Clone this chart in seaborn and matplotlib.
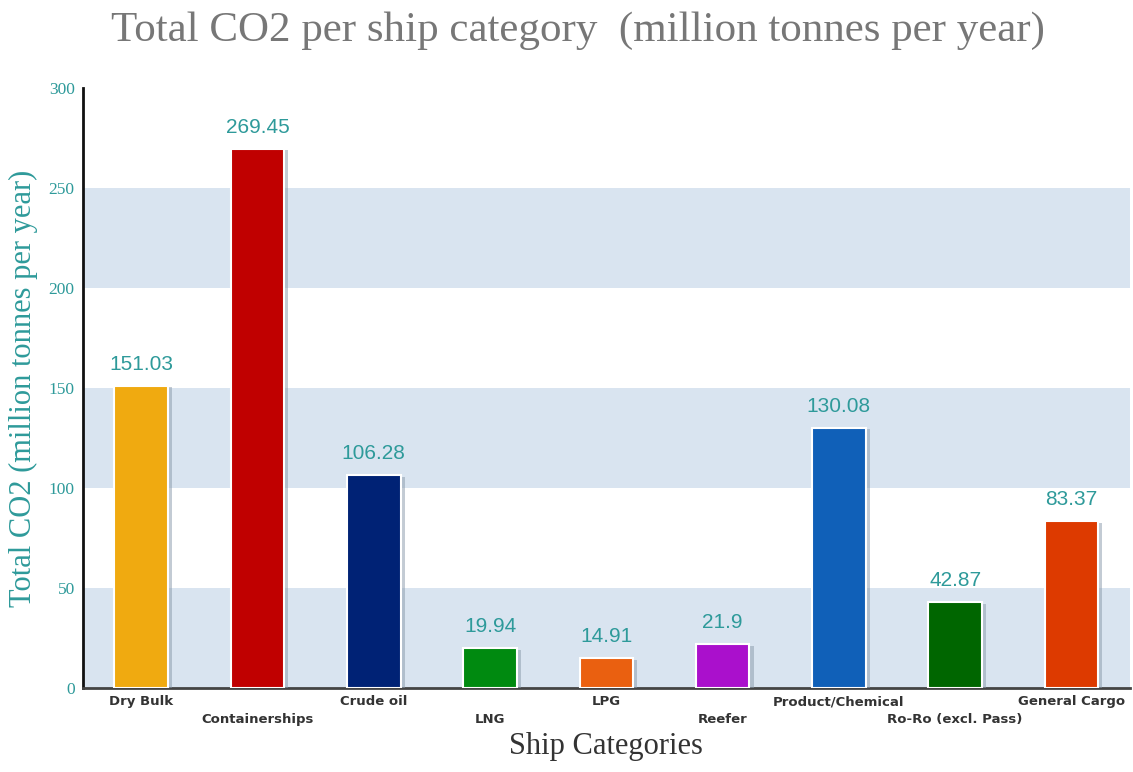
import matplotlib
matplotlib.use("Agg")
import matplotlib.pyplot as plt
import matplotlib.patheffects as pe
import seaborn as sns
import pandas as pd

categories = ["Dry Bulk", "Containerships", "Crude oil", "LNG", "LPG", "Reefer",
              "Product/Chemical", "Ro-Ro (excl. Pass)", "General Cargo"]
values = [151.03, 269.45, 106.28, 19.94, 14.91, 21.9, 130.08, 42.87, 83.37]
colors = ["#F0AA10", "#C00000", "#002275", "#008A10", "#EA6010", "#AA10CC",
          "#1060B8", "#006600", "#DD3A00"]
yticks = [0, 50, 100, 150, 200, 250, 300]

df = pd.DataFrame({"cat": categories, "val": values})

sns.set_style("white")
teal = "#2E9A9A"
fig = plt.figure(figsize=(11.33, 7.72), dpi=100)
ax = fig.add_axes([0.0733, 0.1088, 0.9237, 0.7772])
ax.grid(False)

for lo in (0, 100, 200):
    ax.axhspan(lo, lo + 50, facecolor="#D9E4F0", edgecolor="none", zorder=0, lw=0)

sns.barplot(data=df, x="cat", y="val", hue="cat", palette=colors, legend=False,
            saturation=1, width=0.46, ax=ax, zorder=3, edgecolor="white", linewidth=1.5)
for cont in ax.containers:
    for p in cont:
        p.set_path_effects([pe.SimplePatchShadow(offset=(3, -1), shadow_rgbFace="#8899AA", alpha=0.5),
                            pe.Normal()])

for i, v in enumerate(values):
    ax.text(i, v + 6, f"{v:g}", ha="center", va="bottom", color=teal,
            fontsize=15, family="Liberation Sans", zorder=5)

ax.set_xlim(-0.5, len(categories) - 0.5)
ax.set_ylim(0, 300)
ax.set_yticks(yticks)
ax.set_yticklabels([str(t) for t in yticks], color=teal, family="Liberation Serif", fontsize=12.5)
ax.tick_params(axis="y", length=0, pad=6)
ax.set_xticks(range(len(categories)))
ax.set_xticklabels([])
ax.tick_params(axis="x", length=0)
for i, c in enumerate(categories):
    ax.annotate(c, xy=(i, 0), xycoords=("data", "axes fraction"),
                xytext=(0, -7 if i % 2 == 0 else -25), textcoords="offset pixels",
                ha="center", va="top", fontsize=9.5, fontweight="bold", color="#333333",
                family="DejaVu Sans")

ax.set_xlabel("Ship Categories", family="Liberation Serif", fontsize=22, color="#333333", labelpad=28)
ax.set_ylabel("Total CO2 (million tonnes per year)", family="Liberation Serif", fontsize=22,
              color=teal, labelpad=8)

for s in ("top", "right"):
    ax.spines[s].set_visible(False)
ax.spines["left"].set_color("#111111")
ax.spines["left"].set_linewidth(2)
ax.spines["bottom"].set_color("#444444")
ax.spines["bottom"].set_linewidth(2)

fig.suptitle("Total CO2 per ship category  (million tonnes per year)", family="Liberation Serif",
             fontsize=31, color="#777777", x=0.510, y=0.985, va="top")

fig.savefig("out.png", dpi=100, facecolor="white")
